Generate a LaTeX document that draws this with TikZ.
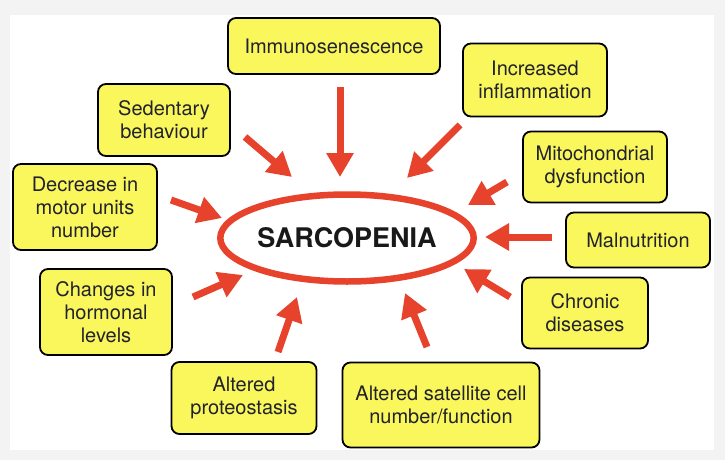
\documentclass[tikz,border=0pt]{standalone}
\usepackage{fontspec}
\setmainfont{TeX Gyre Heros}
\usetikzlibrary{arrows.meta,shapes.geometric}
\definecolor{boxyellow}{RGB}{249,247,92}
\definecolor{arrred}{RGB}{231,66,44}
\definecolor{txt}{RGB}{34,34,44}
\definecolor{bggrey}{RGB}{243,243,243}
\tikzset{
  factor/.style={draw=black, line width=1.8pt, fill=boxyellow, rounded corners=8pt,
    align=center, inner sep=0pt, text=txt, font=\fontsize{20}{23}\selectfont},
  cause/.style={draw=arrred, line width=7pt, -{Triangle[length=24pt,width=26pt]}},
}
\begin{document}
\begin{tikzpicture}[x=1pt,y=-1pt]
\fill[bggrey] (0,0) rectangle (725,460);
\fill[white] (10,15) rectangle (714,450);
\useasboundingbox (0,0) rectangle (725,460);

\node[draw=arrred, line width=6.5pt, fill=white, ellipse, minimum width=232pt, minimum height=87pt,
  inner sep=0pt, font=\fontsize{27}{30}\selectfont\bfseries, text=black!90] (sar) at (347,238) {SARCOPENIA};

\node[factor, minimum width=212pt, minimum height=56pt] (imm) at (334,46) {Immunosenescence};
\node[factor, minimum width=144pt, minimum height=73pt] (inf) at (535,80) {Increased\\inflammation};
\node[factor, minimum width=144pt, minimum height=71pt] (mit) at (595,167) {Mitochondrial\\dysfunction};
\node[factor, minimum width=144pt, minimum height=55pt] (mal) at (638,240) {Malnutrition};
\node[factor, minimum width=126pt, minimum height=71pt] (chr) at (585,313) {Chronic\\diseases};
\node[factor, minimum width=197pt, minimum height=85pt] (sat) at (441,405) {Altered satellite cell\\number/function};
\node[factor, minimum width=145pt, minimum height=72pt] (pro) at (244,398) {Altered\\proteostasis};
\node[factor, minimum width=132pt, minimum height=86pt] (hor) at (106,312) {Changes in\\hormonal\\levels};
\node[factor, minimum width=144pt, minimum height=86pt] (mot) at (85,207) {Decrease in\\motor units\\number};
\node[factor, minimum width=132pt, minimum height=72pt] (sed) at (164,120) {Sedentary\\behaviour};

\coordinate (immS) at (340,87);  \coordinate (immT) at (340,177);
\coordinate (sedS) at (245,137); \coordinate (sedT) at (292,177);
\coordinate (motS) at (171,200); \coordinate (motT) at (222,218);
\coordinate (infS) at (460,125); \coordinate (infT) at (407,178);
\coordinate (mitS) at (507,182); \coordinate (mitT) at (468,205);
\coordinate (malS) at (552,237); \coordinate (malT) at (485,237);
\coordinate (chrS) at (510,297); \coordinate (chrT) at (464,269);
\coordinate (satS) at (427,347); \coordinate (satT) at (405,293);
\coordinate (proS) at (278,352); \coordinate (proT) at (297,297);
\coordinate (horS) at (193,297); \coordinate (horT) at (243,275);

\foreach \n in {imm,sed,mot,inf,mit,mal,chr,sat,pro,hor}
  \draw[cause] (\n S) -- (\n T);
\end{tikzpicture}
\end{document}
